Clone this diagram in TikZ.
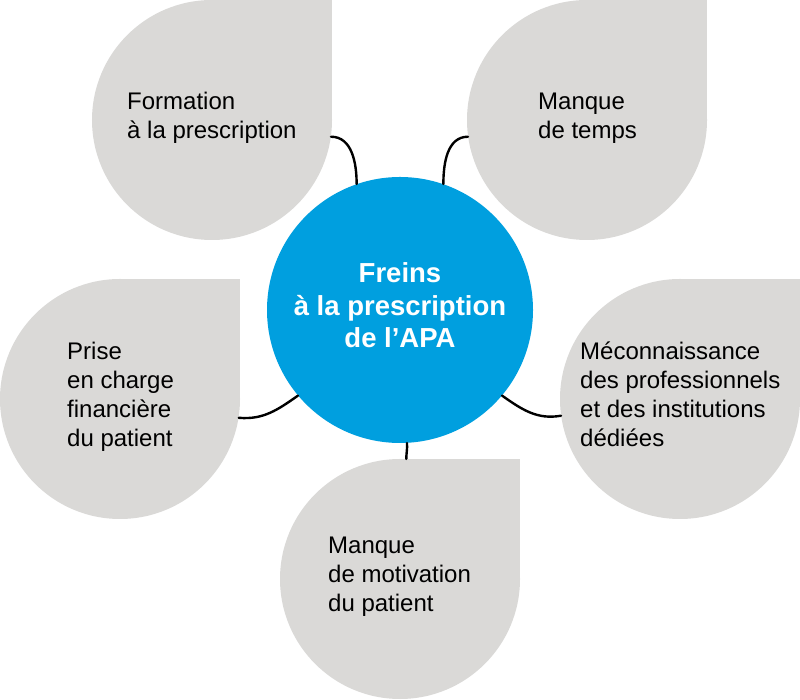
\documentclass[tikz,border=0pt]{standalone}
\usepackage{pgf,tikz}
\usepackage{fontspec}
\setmainfont{Liberation Sans}
\definecolor{dropgray}{RGB}{218,217,215}
\definecolor{hubblue}{RGB}{0,159,223}
\tikzset{
  drop/.style={circle,fill=dropgray,minimum size=240bp,inner sep=0pt},
  hub/.style={circle,fill=hubblue,minimum size=266bp,inner sep=0pt},
  droptext/.style={anchor=base west,align=left,inner sep=0pt,font=\fontsize{24bp}{29bp}\selectfont},
  hubtext/.style={anchor=base,align=center,inner sep=0pt,text=white,font=\fontsize{27.5bp}{32.5bp}\selectfont\bfseries},
  link/.style={line width=2.4bp}
}
\begin{document}
\begin{tikzpicture}[line cap=round,line join=round,x=1bp,y=1bp]
\useasboundingbox (0,0) rectangle (800,700);
% drops
\node[drop] (form) at (212,580) {};
\fill[dropgray] (form.center) rectangle ++(120,120);
\node[drop] (temps) at (587,580) {};
\fill[dropgray] (temps.center) rectangle ++(120,120);
\node[drop] (fin) at (120,301) {};
\fill[dropgray] (fin.center) rectangle ++(120,120);
\node[drop] (meco) at (680,301) {};
\fill[dropgray] (meco.center) rectangle ++(120,120);
\node[drop] (motiv) at (400,121) {};
\fill[dropgray] (motiv.center) rectangle ++(120,120);
% centre
\node[hub] (hub) at (400,390) {};
% links
\draw[link] (form.-8) to[out=0,in=90] (hub.109);
\draw[link] (temps.188) to[out=180,in=90] (hub.71);
\draw[link] (fin.-9) to[out=-5,in=215] (hub.220);
\draw[link] (hub.-40) to[out=-35,in=190] (meco.188);
\draw[link] (hub.-87) to[out=-85,in=90] (motiv.87);
% texts (base = last line)
\node[droptext] (formtext) at (127,561) {Formation\\à la prescription};
\node[droptext] (tempstext) at (538,561) {Manque\\de temps};
\node[droptext] (fintext) at (67,253) {Prise\\en charge\\financière\\du patient};
\node[droptext] (mecotext) at (580,253) {Méconnaissance\\des professionnels\\et des institutions\\dédiées};
\node[droptext] (motivtext) at (328,88) {Manque\\de motivation\\du patient};
\node[hubtext] (hubtext) at (400,352) {Freins\\à la prescription\\de l’APA};
\end{tikzpicture}
\end{document}
